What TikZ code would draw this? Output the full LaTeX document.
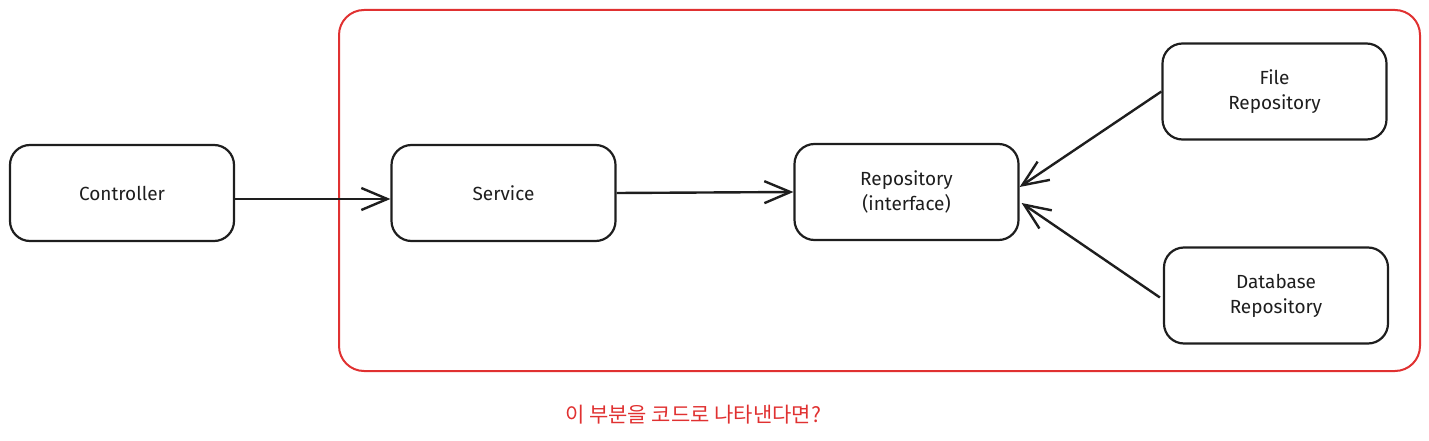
\documentclass[tikz,border=0pt]{standalone}
\usepackage{fontspec}
\setmainfont{Fira Sans}
\newfontfamily\krfont{Noto Sans CJK KR}
\usetikzlibrary{arrows.meta}
\definecolor{ink}{HTML}{1E1E1E}
\definecolor{redline}{HTML}{E03131}
\tikzset{
  box/.style={draw=ink, line width=2.2pt, rounded corners=20pt, minimum width=224pt, minimum height=96pt, align=center, font=\fontsize{19}{25}\selectfont\color{ink}},
  conn/.style={draw=ink, line width=2.4pt, -{Straight Barb[length=26pt,width=22pt,line width=2.4pt]}},
}
\begin{document}
\begin{tikzpicture}[x=1pt,y=-1pt]
\useasboundingbox (0,0) rectangle (1429,441);
\node[draw=redline, line width=2pt, rounded corners=25pt, minimum width=1081pt, minimum height=361pt] (frame) at (879.5,190.5) {};
\node[box] (ctrl) at (122,193) {Controller};
\node[box] (svc) at (503.5,193) {Service};
\node[box] (repo) at (906.5,192) {Repository\\(interface)};
\node[box] (file) at (1274.5,91.5) {File\\Repository};
\node[box] (db) at (1276,295.5) {Database\\Repository};
\node[text=redline, font=\krfont\fontsize{21}{24}\selectfont] (note) at (693,415) {이 부분을 코드로 나타낸다면?};
\draw[conn] (ctrl.east |- 0,199) -- (svc.west |- 0,199);
\draw[conn] (svc.east) -- (repo.west);
\draw[conn] (file.west) -- ([yshift=5pt]repo.east);
\draw[conn] ([yshift=-2pt,xshift=-3pt]db.west) -- ([yshift=-11pt,xshift=2pt]repo.east);
\end{tikzpicture}
\end{document}
